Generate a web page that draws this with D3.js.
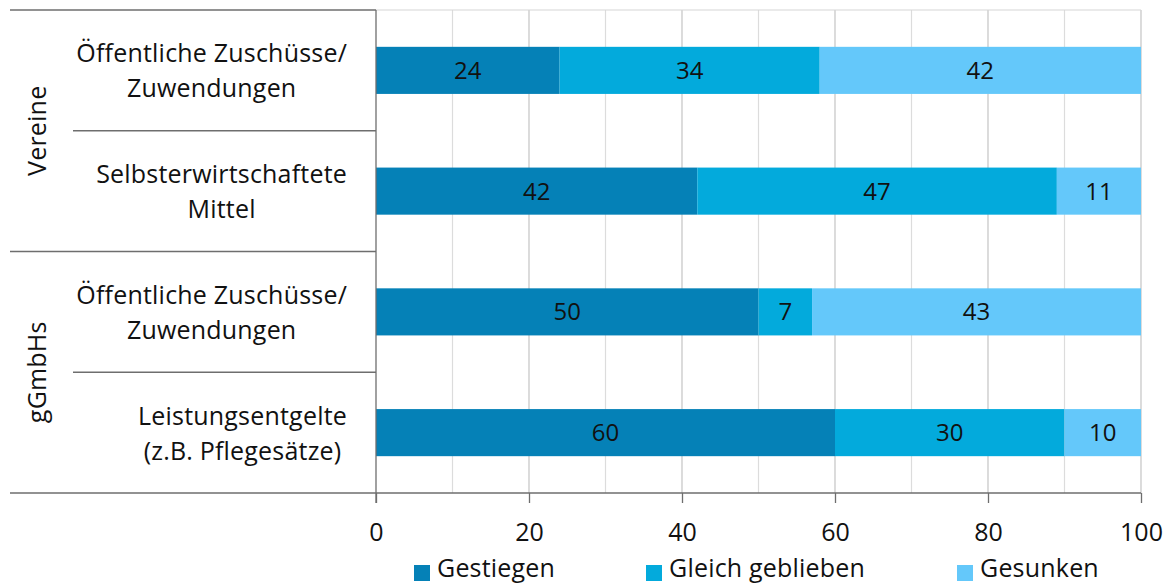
<!DOCTYPE html>
<html>
<head>
<meta charset="utf-8">
<script src="https://cdn.jsdelivr.net/npm/d3@7"></script>
<style>
  html, body { margin: 0; padding: 0; background: #fff; }
  svg text { font-family: "Open Sans", Lato, sans-serif; fill: #111; }
</style>
</head>
<body>
<svg id="chart" width="1169" height="584"></svg>
<script>
// Survey: how did funding sources develop (share of respondents, %)
const groups = ["Vereine", "gGmbHs"];
const categories = [
  ["Öffentliche Zuschüsse/", "Zuwendungen"],
  ["Selbsterwirtschaftete", "Mittel"],
  ["Öffentliche Zuschüsse/", "Zuwendungen"],
  ["Leistungsentgelte", "(z.B. Pflegesätze)"]
];
const categoryGroup = [0, 0, 1, 1];
const seriesNames = ["Gestiegen", "Gleich geblieben", "Gesunken"];
const gestiegen = [24, 42, 50, 60];
const gleichGeblieben = [34, 47, 7, 30];
const gesunken = [42, 11, 43, 10];
const xTicks = [0, 20, 40, 60, 80, 100];

const colors = ["#0581b7", "#03aadc", "#64c8fa"];
const fontSize = "25px";
const letterSp = "0.2px";

const svg = d3.select("#chart");
const plot = { left: 376, right: 1141, top: 10, bottom: 493 };

const x = d3.scaleLinear().domain([0, 100]).range([plot.left, plot.right]);
const y = d3.scaleBand().domain(d3.range(categories.length))
  .range([plot.top, plot.bottom]).paddingInner(0.61).paddingOuter(0.305);
const rowBand = d3.scaleBand().domain(d3.range(categories.length))
  .range([plot.top, plot.bottom]);

// gridlines: minor every 10, major every 20
const grid = svg.append("g");
grid.selectAll("line.minor").data(d3.range(10, 101, 20)).join("line")
  .attr("x1", d => x(d)).attr("x2", d => x(d))
  .attr("y1", plot.top).attr("y2", plot.bottom)
  .attr("stroke", "#dcdcdc").attr("stroke-width", 1.2);
grid.selectAll("line.major").data(d3.range(20, 101, 20)).join("line")
  .attr("x1", d => x(d)).attr("x2", d => x(d))
  .attr("y1", plot.top).attr("y2", plot.bottom)
  .attr("stroke", "#c4c4c4").attr("stroke-width", 1.2);
// top border of plot area
svg.append("line")
  .attr("x1", plot.left).attr("x2", plot.right)
  .attr("y1", plot.top).attr("y2", plot.top)
  .attr("stroke", "#d6d6d6").attr("stroke-width", 1.2);

// stacked bars
const table = categories.map((c, i) => ({
  i, Gestiegen: gestiegen[i], "Gleich geblieben": gleichGeblieben[i], Gesunken: gesunken[i]
}));
const stacked = d3.stack().keys(seriesNames)(table);

const layers = svg.append("g").selectAll("g").data(stacked).join("g")
  .attr("fill", (d, k) => colors[k]);
layers.selectAll("rect").data(d => d).join("rect")
  .attr("x", d => x(d[0]))
  .attr("width", d => x(d[1]) - x(d[0]))
  .attr("y", d => y(d.data.i))
  .attr("height", y.bandwidth());

// value labels
layers.selectAll("text").data(d => d).join("text")
  .attr("x", d => (x(d[0]) + x(d[1])) / 2)
  .attr("y", d => y(d.data.i) + y.bandwidth() / 2 + 8.5)
  .attr("text-anchor", "middle")
  .style("font-size", "24px")
  .text(d => d[1] - d[0]);

// x axis
const xAxis = svg.append("g").attr("transform", `translate(0,${plot.bottom})`)
  .call(d3.axisBottom(x).tickValues(xTicks).tickSize(10).tickPadding(20));
xAxis.select(".domain").remove();
xAxis.selectAll(".tick line").attr("stroke", "#6e6e6e").attr("stroke-width", 1.3);
xAxis.selectAll(".tick text").style("font-size", fontSize)
  .style("font-family", "'Open Sans', sans-serif").attr("fill", "#111");

const axisCol = "#6e6e6e";
// axis line across plot and the left category frame
svg.append("line").attr("x1", 10).attr("x2", plot.right)
  .attr("y1", plot.bottom).attr("y2", plot.bottom)
  .attr("stroke", axisCol).attr("stroke-width", 1.3);
svg.append("line").attr("x1", plot.left).attr("x2", plot.left)
  .attr("y1", plot.top).attr("y2", plot.bottom + 10)
  .attr("stroke", axisCol).attr("stroke-width", 1.3);
svg.append("line").attr("x1", 10).attr("x2", plot.left)
  .attr("y1", plot.top).attr("y2", plot.top)
  .attr("stroke", axisCol).attr("stroke-width", 1.3);

// row separators: short inside a group, long between groups
const seps = d3.range(1, categories.length);
svg.append("g").selectAll("line").data(seps).join("line")
  .attr("x1", i => categoryGroup[i] !== categoryGroup[i - 1] ? 10 : 73)
  .attr("x2", plot.left)
  .attr("y1", i => rowBand(i)).attr("y2", i => rowBand(i))
  .attr("stroke", axisCol).attr("stroke-width", 1.3);

// category labels: lines centred on each other, block right-aligned
const catG = svg.append("g");
categories.forEach((lines, i) => {
  const cy = rowBand(i) + rowBand.bandwidth() / 2;
  const texts = lines.map((t, j) => catG.append("text")
    .attr("y", cy + (j - (lines.length - 1) / 2) * 35 + 9.5)
    .style("font-size", fontSize)
    .style("letter-spacing", letterSp)
    .text(t));
  const widths = texts.map(t => t.node().getComputedTextLength());
  const maxW = d3.max(widths);
  const center = 347 - maxW / 2;
  texts.forEach(t => t.attr("x", center).attr("text-anchor", "middle"));
});

// group labels (rotated)
groups.forEach((g, gi) => {
  const idx = categoryGroup.map((v, i) => v === gi ? i : -1).filter(i => i >= 0);
  const top = rowBand(idx[0]);
  const bot = rowBand(idx[idx.length - 1]) + rowBand.bandwidth();
  const cy = (top + bot) / 2;
  svg.append("text")
    .attr("transform", `translate(36,${cy}) rotate(-90)`)
    .attr("text-anchor", "middle")
    .attr("dominant-baseline", "central")
    .style("font-size", fontSize)
    .style("letter-spacing", letterSp)
    .text(g);
});

// legend
const legendX = [414, 646, 957];
const legend = svg.append("g").selectAll("g").data(seriesNames).join("g")
  .attr("transform", (d, k) => `translate(${legendX[k]},565)`);
legend.append("rect").attr("width", 16).attr("height", 16)
  .attr("fill", (d, k) => colors[k]);
legend.append("text").attr("x", 23).attr("y", 12)
  .style("font-size", fontSize)
  .style("letter-spacing", letterSp)
  .text(d => d);
</script>
</body>
</html>
